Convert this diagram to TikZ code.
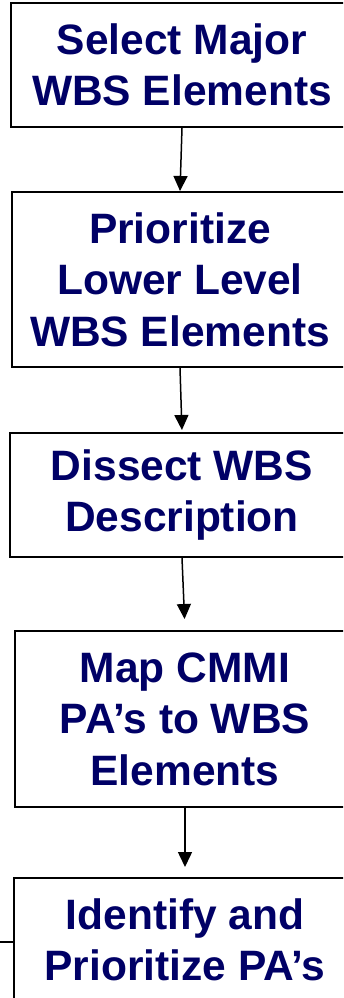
\documentclass[tikz,border=0pt]{standalone}
\usepackage{fontspec}
\setmainfont{Liberation Sans}
\usetikzlibrary{arrows.meta}
\definecolor{navy}{RGB}{0,0,102}
\tikzset{
  box/.style={draw=black, line width=2pt, fill=white, rectangle, inner sep=0pt,
    text=navy, font=\fontsize{42.5}{51.5}\selectfont\bfseries, align=center},
  arr/.style={draw=black, line width=1.5pt, -{Triangle[length=15pt,width=14pt]}},
  conn/.style={draw=black, line width=1.5pt}
}
\begin{document}
\begin{tikzpicture}[x=1pt,y=-1pt]
\useasboundingbox (0,0) rectangle (343,998);
\clip (0,0) rectangle (343,998);
\node[box, minimum width=342pt, minimum height=124pt] (b1) at (182,65) {Select Major\\WBS Elements};
\node[box, minimum width=336pt, minimum height=175pt] (b2) at (180,279.5) {Prioritize\\Lower Level\\WBS Elements};
\node[box, minimum width=344pt, minimum height=124pt] (b3) at (182,495) {Dissect WBS\\Description};
\node[box, minimum width=340pt, minimum height=176pt] (b4) at (185,719) {Map CMMI\\PA’s to WBS\\Elements};
\node[box, minimum width=342pt, minimum height=124pt] (b5) at (185,940) {Identify and\\Prioritize PA’s};
\coordinate (lft) at (-2,942);
\draw[arr] (b1.south) -- (b2.north);
\draw[arr, shorten >=2pt] (b2.south) -- (b3.north);
\draw[arr, shorten >=11pt] (b3.south) -- (b4.north);
\draw[arr, shorten >=10pt] (b4.south) -- (b5.north);
\draw[conn] (lft) -- (lft -| b5.west);
\end{tikzpicture}
\end{document}
